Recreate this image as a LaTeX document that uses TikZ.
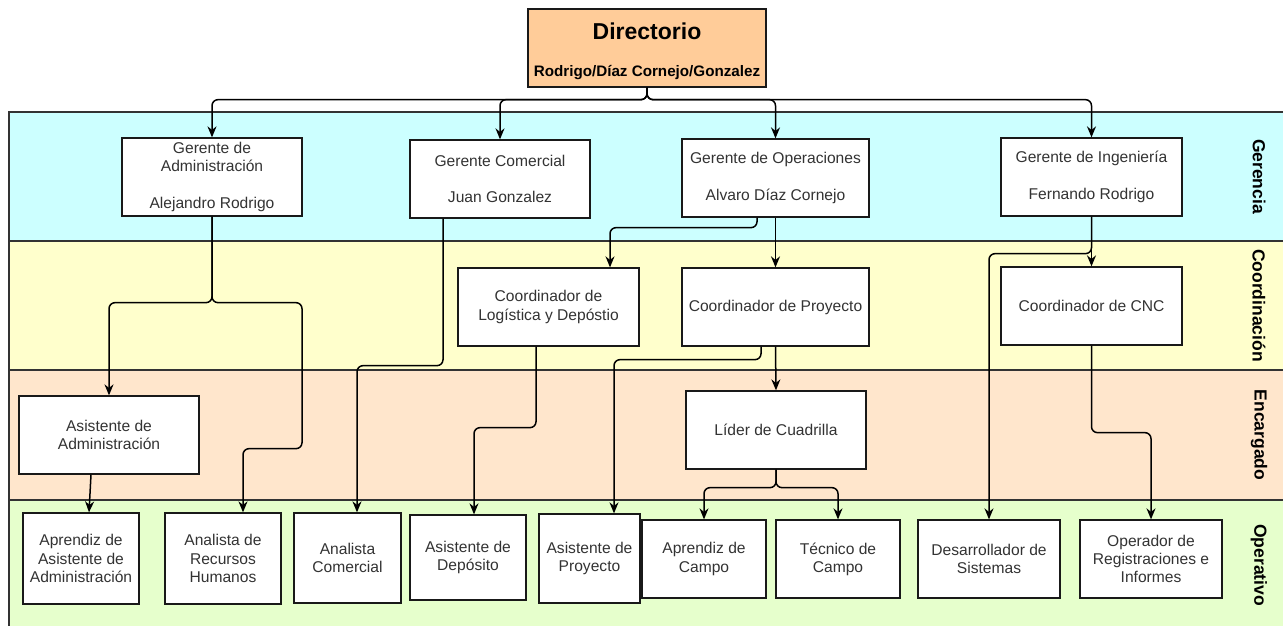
\documentclass[tikz,border=0pt]{standalone}
\usepackage{fontspec}
\setmainfont{Liberation Sans}
\usetikzlibrary{arrows.meta}
\definecolor{laneG}{HTML}{CCFFFF}
\definecolor{laneC}{HTML}{FFFFCC}
\definecolor{laneE}{HTML}{FFE6CC}
\definecolor{laneO}{HTML}{E6FFCC}
\definecolor{dirfill}{HTML}{FFCC99}
\definecolor{boxtext}{HTML}{333333}

\begin{document}
\begin{tikzpicture}[x=1pt, y=-1pt,
		box/.style={draw=black!90, fill=white, line width=1.3pt, align=center, inner sep=0pt, text=boxtext, font=\fontsize{15.6}{18.2}\selectfont, minimum height=78pt},
		link/.style={draw=black, line width=1.5pt, rounded corners=6pt, -{Stealth[length=11pt,width=9pt]}},
		lanename/.style={font=\fontsize{17.5}{20}\selectfont\bfseries, rotate=-90}]
	\useasboundingbox (0,0) rectangle (1283,625);
	\clip (0,0) rectangle (1283,625);
	\foreach \ya/\yb/\ym/\col/\lbl [count=\i] in {112/241/176.5/laneG/Gerencia, 241/370/305.5/laneC/Coordinación, 370/500/435/laneE/Encargado, 500/640/565/laneO/Operativo} {
			\draw[fill=\col, draw=black!80, line width=1.3pt] (9,\ya) rectangle (1295,\yb);
			\node[lanename] (lane\i) at (1259,\ym) {\lbl};
		}
	\node[box, fill=dirfill, minimum width=238pt] (dir) at (647,48) {};
	\node[font=\fontsize{23}{26}\selectfont\bfseries] (dirtitle) at (647,31) {Directorio};
	\node[font=\fontsize{15.2}{18}\selectfont\bfseries] (dirnames) at (647,73) {Rodrigo/Díaz Cornejo/Gonzalez};
	\node[box, minimum width=180pt] (gadm) at (212,177) {Gerente de\\Administración\\~\\Alejandro Rodrigo};
	\node[box, minimum width=180pt] (gcom) at (500,179) {Gerente Comercial\\~\\Juan Gonzalez};
	\node[box, minimum width=187pt] (gops) at (775.5,178) {Gerente de Operaciones\\~\\Alvaro Díaz Cornejo};
	\node[box, minimum width=181pt] (ging) at (1091.5,177) {Gerente de Ingeniería\\~\\Fernando Rodrigo};
	\node[box, minimum width=181pt] (clog) at (548.5,307) {Coordinador de\\Logística y Depóstio};
	\node[box, minimum width=187pt] (cpro) at (775.5,307) {Coordinador de Proyecto};
	\node[box, minimum width=181pt] (ccnc) at (1091.5,306) {Coordinador de CNC};
	\node[box, minimum width=180pt] (aadm) at (109,435) {Asistente de\\Administración};
	\node[box, minimum width=180pt] (lider) at (776,430) {Líder de Cuadrilla};
	\node[box, minimum width=116pt, minimum height=91pt] (op1) at (81,558.5) {Aprendiz de\\Asistente de\\Administración};
	\node[box, minimum width=116pt, minimum height=91pt] (op2) at (223,558.5) {Analista de\\Recursos\\Humanos};
	\node[box, minimum width=107pt, minimum height=90pt] (op3) at (347.5,558) {Analista\\Comercial};
	\node[box, minimum width=116pt, minimum height=85pt] (op4) at (468,557.5) {Asistente de\\Depósito};
	\node[box, minimum width=101pt, minimum height=89pt] (op5) at (589.5,558.5) {Asistente de\\Proyecto};
	\node[box, minimum width=124pt] (op6) at (704,559) {Aprendiz de\\Campo};
	\node[box, minimum width=124pt] (op7) at (838,559) {Técnico de\\Campo};
	\node[box, minimum width=142pt] (op8) at (989,559) {Desarrollador de\\Sistemas};
	\node[box, minimum width=142pt] (op9) at (1151,559) {Operador de\\Registraciones e\\Informes};
	\foreach \n in {gadm, gcom, gops, ging}
		\draw[link] (dir.south) -- ++(0,12) -| (\n.north);
	\draw[link] (gadm.south) -- ++(0,86) -| (aadm.north);
	\draw[link] (gadm.south) -- ++(0,86) -| ++(90,146) -| ([xshift=20pt]op2.north);
	\draw[link] ([xshift=-57pt]gcom.south) -- ++(0,147) -| ([xshift=9.5pt]op3.north);
	\draw[link] ([xshift=-18.5pt]gops.south) -- ++(0,10) -| ([xshift=61.5pt]clog.north);
	\draw[link] (gops.south) -- (cpro.north);
	\draw[link] (ging.south) -- (ccnc.north);
	\draw[link] (ging.south) -- ++(0,37) -| (op8.north);
	\draw[link] ([xshift=-12.5pt]clog.south) -- ++(0,81) -| ([xshift=6pt]op4.north);
	\draw[link] ([xshift=-14.5pt]cpro.south) -- ++(0,13) -| ([xshift=24.5pt]op5.north);
	\draw[link] (cpro.south) -- (lider.north);
	\draw[link] (ccnc.south) -- ++(0,87) -| (op9.north);
	\draw[link] ([xshift=-18pt]aadm.south) -- ([xshift=8pt]op1.north);
	\foreach \n in {op6, op7}
		\draw[link] (lider.south) -- ++(0,18) -| (\n.north);
\end{tikzpicture}
\end{document}
